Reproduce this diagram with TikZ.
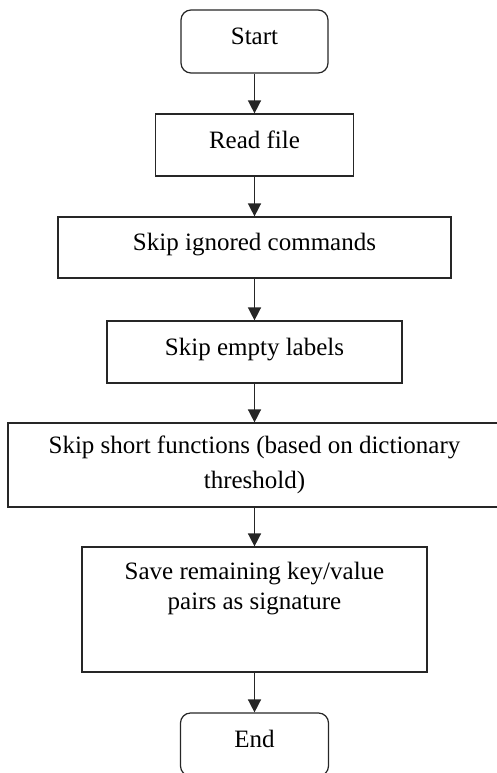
\documentclass[tikz,border=0pt]{standalone}
\usepackage{fontspec}
\setmainfont{Liberation Serif}
\usetikzlibrary{arrows.meta, positioning}
\tikzstyle{box}=[draw=black!85, line width=1.2pt, align=center, inner sep=0pt, font=\fontsize{25}{35}\selectfont, text height=21pt, text depth=15pt]
\tikzstyle{term}=[box, rounded corners=10pt]
\tikzstyle{flow}=[-{Triangle[width=13pt,length=13pt]}, line width=1.5pt, black!85]

\begin{document}
\begin{tikzpicture}[x=1pt,y=1pt]
	\path[use as bounding box, clip] (0,0) rectangle (497,-773);
	\node[term, minimum width=147pt, minimum height=63pt] (1) at (254.5, -41.5) {Start};
	\node[box, minimum width=198pt, minimum height=62pt] (2) at (254.5, -145) {Read file};
	\node[box, minimum width=393pt, minimum height=61pt] (3) at (254.5, -247.5) {Skip ignored commands};
	\node[box, minimum width=295pt, minimum height=62pt] (4) at (254.5, -352) {Skip empty labels};
	\node[box, text height=, text depth=, minimum width=493pt, minimum height=84pt] (5) at (254.5, -465) {\raisebox{0pt}[17pt][0pt]{}Skip short functions (based on dictionary\\threshold)};
	\node[box, text height=, text depth=, minimum width=345pt, minimum height=125pt] (6) at (254.5, -609.5)
		{\parbox[t][95pt][t]{330pt}{\fontsize{25}{30}\selectfont\centering Save remaining key/value\\pairs as signature}};
	\node[term, minimum width=148pt, minimum height=63pt] (7) at (254.5, -744.5) {End};
	% connectors
	\draw[flow] (1) -- (2);
	\draw[flow] (2) -- (3);
	\draw[flow] (3) -- (4);
	\draw[flow] (4) -- (5);
	\draw[flow] (5) -- (6);
	\draw[flow] (6) -- (7);
\end{tikzpicture}
\end{document}
